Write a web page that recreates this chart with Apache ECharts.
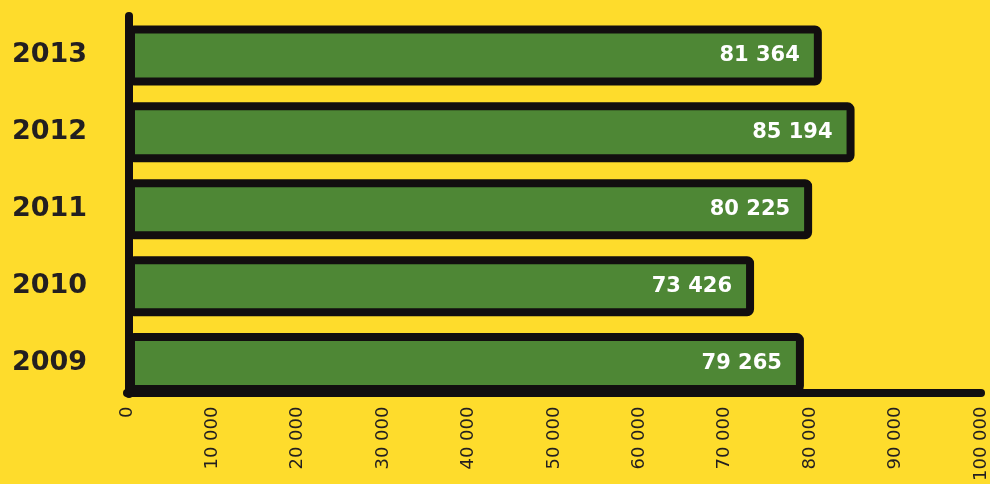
<!DOCTYPE html>
<html>
<head>
<meta charset="utf-8">
<script src="https://cdn.jsdelivr.net/npm/echarts@6/dist/echarts.min.js"></script>
<style>
  html, body { margin: 0; padding: 0; background: #FEDC2C; }
  #chart { width: 990px; height: 484px; }
</style>
</head>
<body>
<div id="chart"></div>
<script>
// Yearly totals, listed bottom-to-top on the category axis
const years = ['2009', '2010', '2011', '2012', '2013'];
const totals = [79265, 73426, 80225, 85194, 81364];

// Value axis range and step
const axisMin = 0;
const axisMax = 100000;
const axisStep = 10000;

const INK = '#120E0F';
const TEXT = '#231F20';
const GREEN = '#4E8735';

// Thousands separated by a space: 81 364
function spaced(v) {
  return String(v).replace(/\B(?=(\d{3})+(?!\d))/g, ' ');
}

const chart = echarts.init(document.getElementById('chart'));

chart.setOption({
  backgroundColor: '#FEDC2C',
  animation: false,
  grid: [
    // bars, year labels and the value axis
    { left: 127, right: 5, top: 17, bottom: 76 },
    // holds only the vertical axis stroke, ending on the horizontal axis
    { left: 129, right: 3, top: 16, bottom: 90 }
  ],
  xAxis: [
    {
      gridIndex: 0,
      type: 'value',
      min: axisMin,
      max: axisMax,
      interval: axisStep,
      offset: -9,
      axisLine: { show: true, lineStyle: { color: INK, width: 8, cap: 'round' } },
      axisTick: { show: false },
      splitLine: { show: false },
      axisLabel: {
        rotate: 90,
        margin: 14,
        color: TEXT,
        fontFamily: 'DejaVu Sans',
        fontSize: 18,
        formatter: spaced
      }
    },
    {
      gridIndex: 1,
      type: 'value',
      min: axisMin,
      max: axisMax,
      show: false
    }
  ],
  yAxis: [
    {
      gridIndex: 0,
      type: 'category',
      data: years,
      axisLine: { show: false },
      axisTick: { show: false },
      axisLabel: {
        align: 'left',
        margin: 115,
        color: TEXT,
        fontFamily: 'DejaVu Sans',
        fontWeight: 'bold',
        fontSize: 27
      }
    },
    {
      gridIndex: 1,
      type: 'category',
      data: years,
      axisLine: { show: true, lineStyle: { color: INK, width: 8, cap: 'round' } },
      axisTick: { show: false },
      axisLabel: { show: false }
    }
  ],
  series: [
    {
      type: 'bar',
      xAxisIndex: 0,
      yAxisIndex: 0,
      data: totals,
      barWidth: 60,
      itemStyle: {
        color: GREEN,
        borderColor: INK,
        borderWidth: 8,
        borderRadius: 3
      },
      label: {
        show: true,
        position: 'insideRight',
        distance: 22,
        color: '#FFFFFF',
        fontFamily: 'DejaVu Sans',
        fontWeight: 'bold',
        fontSize: 21,
        formatter: p => spaced(p.value)
      }
    }
  ]
});
</script>
</body>
</html>
